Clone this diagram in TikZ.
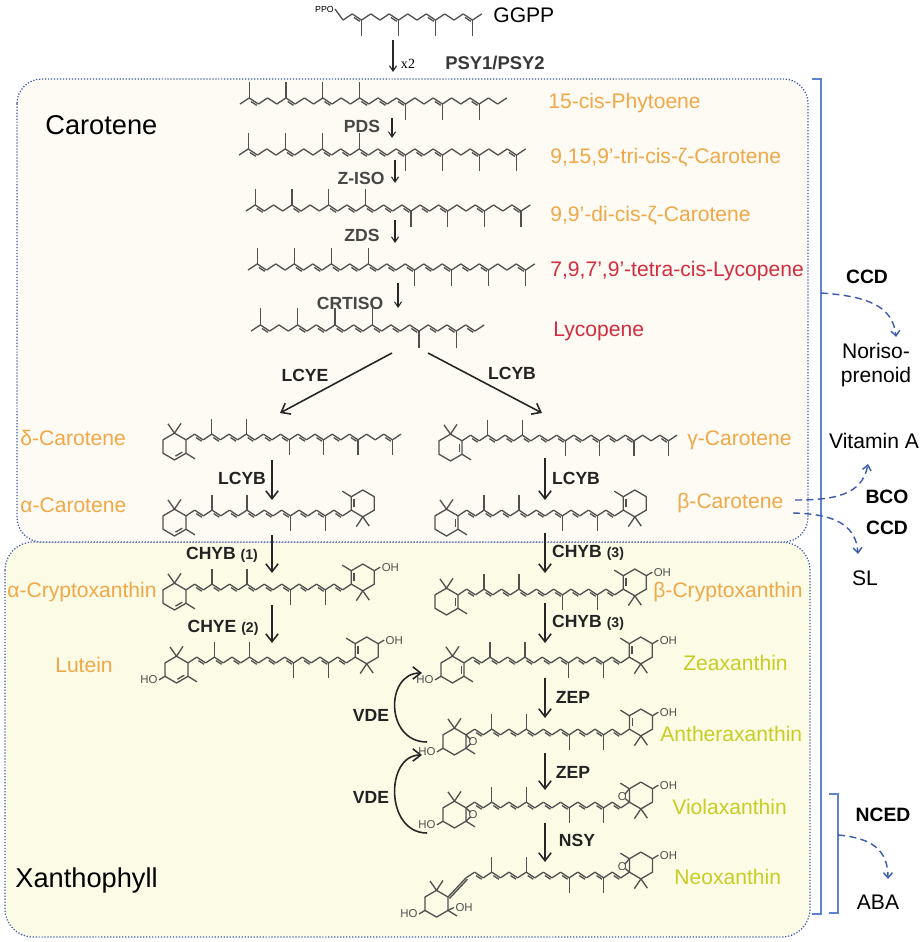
\documentclass[tikz,border=0pt]{standalone}
\usepackage{fontspec}
\setmainfont{Liberation Sans}
\newfontfamily\serifx{Liberation Serif}
\usetikzlibrary{arrows.meta}

\definecolor{orlab}{RGB}{240,168,72}
\definecolor{redlab}{RGB}{212,44,64}
\definecolor{yellab}{RGB}{200,205,35}
\definecolor{topfill}{RGB}{253,251,243}
\definecolor{botfill}{RGB}{252,251,230}
\definecolor{boxblue}{RGB}{60,90,175}
\definecolor{brblue}{RGB}{95,130,210}
\definecolor{bondgray}{RGB}{80,80,80}
\definecolor{enzgray}{RGB}{35,35,35}

\tikzset{
  bond/.style={draw=bondgray, line width=0.75pt, line join=round},
  oh/.style={font=\fontsize{6.5}{7}\selectfont, text=bondgray, inner sep=0.5pt},
  lab/.style={font=\fontsize{12}{14}\selectfont, anchor=west, inner sep=0pt},
  side/.style={font=\fontsize{12}{13.6}\selectfont, align=center, inner sep=0pt},
  enz/.style={font=\fontsize{10}{12}\selectfont\bfseries, text=enzgray, inner sep=0pt},
  topenz/.style={font=\fontsize{10.5}{12}\selectfont\bfseries, text=black!78, inner sep=0pt},
  sideenz/.style={font=\fontsize{11}{12}\selectfont\bfseries, inner sep=0pt},
  rxn/.style={draw=black!85, line width=0.9pt, -{Straight Barb[length=4.5pt,width=7pt]}},
  smallrxn/.style={draw=black!85, line width=0.6pt, -{Straight Barb[length=3pt,width=4pt]}},
  cleave/.style={draw=boxblue, line width=0.8pt, dash pattern=on 4pt off 2.5pt, -{Straight Barb[length=3pt,width=5pt]}},
  bracket/.style={draw=brblue, line width=0.9pt},
  panel/.style={draw=boxblue, densely dotted, line width=0.7pt},
}

% zigzag chain: x0, y0, dx, bonds, methyl vertices, double bonds (vertex k to k+1)
\newcommand{\chain}[6]{%
  \foreach \k in {1,...,#4}{%
    \pgfmathsetmacro{\xa}{#1+#3*(\k-1)}%
    \pgfmathsetmacro{\ya}{#2+0.33*#3*(1-2*mod(\k-1,2))}%
    \pgfmathsetmacro{\xb}{#1+#3*\k}%
    \pgfmathsetmacro{\yb}{#2+0.33*#3*(1-2*mod(\k,2))}%
    \draw[bond] (\xa,\ya) -- (\xb,\yb);
  }%
  \foreach \m in {#5}{%
    \pgfmathsetmacro{\xa}{#1+#3*\m}%
    \pgfmathsetmacro{\sg}{1-2*mod(\m,2)}%
    \draw[bond] (\xa,{#2+0.33*#3*\sg}) -- (\xa,{#2+2.1*#3*\sg});
  }%
  \foreach \d in {#6}{%
    \pgfmathsetmacro{\xa}{#1+#3*(\d+0.18)}%
    \pgfmathsetmacro{\xb}{#1+#3*(\d+0.82)}%
    \pgfmathsetmacro{\sg}{1-2*mod(\d,2)}%
    \draw[bond] (\xa,{#2+0.21*#3*\sg+2.4}) -- (\xb,{#2-0.21*#3*\sg+2.4});
  }%
}

% left end ring at C6: 0 epsilon, 1 beta, 2 epoxide, 3 allenic; #3 = 1 for HO
\newcommand{\ringL}[3]{%
  \begin{scope}[shift={(#1)}]
    \draw[bond] (0,0) -- (-11.5,-6.7) -- (-23,0) -- (-23,13.4) -- (-11.5,20.1) -- (0,13.4) -- cycle;
    \draw[bond] (-11.5,-6.7) -- (-18,-16) (-11.5,-6.7) -- (-5,-16.5) (0,13.4) -- (9,19);
    \ifcase#2\relax
      \draw[bond] (-10.6,16.3) -- (-3.7,12.3);
    \or
      \draw[bond] (-2.8,2.7) -- (-2.8,10.7);
    \or
      \draw[bond] (0,0) -- (4.5,4.5) (0,13.4) -- (4.5,9);
      \node[oh] at (7,6.7) {O};
    \or
      \draw[bond] (0,13.4) -- (6,10.5) node[oh,anchor=west] {OH};
    \fi
    \ifnum#3=1
      \draw[bond] (-23,13.4) -- (-29,17) node[oh,anchor=east] {HO};
    \fi
  \end{scope}}

% right end ring at C6': 1 beta, 2 epoxide; #3 = 1 for OH
\newcommand{\ringR}[3]{%
  \begin{scope}[shift={(#1)}]
    \draw[bond] (0,0) -- (11.5,6.7) -- (23,0) -- (23,-13.4) -- (11.5,-20.1) -- (0,-13.4) -- cycle;
    \draw[bond] (11.5,6.7) -- (18,16) (11.5,6.7) -- (5,16.5) (0,-13.4) -- (-9,-19);
    \ifcase#2\relax
    \or
      \draw[bond] (2.8,-2.7) -- (2.8,-10.7);
    \or
      \draw[bond] (0,0) -- (-4,-3.5) (0,-13.4) -- (-4.5,-8);
      \node[oh] at (-7,-5.5) {O};
    \fi
    \ifnum#3=1
      \draw[bond] (23,-13.4) -- (29,-17) node[oh,anchor=west] {OH};
    \fi
  \end{scope}}

\begin{document}
\begin{tikzpicture}[x=0.02cm,y=-0.02cm]
\path[fill=white] (0,0) rectangle (920,942);
\useasboundingbox (0,0) rectangle (920,942);

% panels
\draw[panel,fill=botfill,rounded corners=16pt] (5,542) rectangle (810,937);
\draw[panel,fill=topfill,rounded corners=14pt] (17,79) rectangle (808,542);
\node[font=\fontsize{15.5}{18}\selectfont,anchor=west,inner sep=0pt] (carot) at (45,125) {Carotene};
\node[font=\fontsize{15.5}{18}\selectfont,anchor=west,inner sep=0pt] (xanth) at (15,880) {Xanthophyll};

% brackets
\draw[bracket] (812,79) -- (821,79) -- (821,914) -- (812,914);
\draw[bracket] (829,794) -- (838,794) -- (838,913) -- (829,913);

% GGPP
\node[font=\fontsize{5}{6}\selectfont,inner sep=0.5pt,anchor=east] (ppo) at (335,9) {PPO};
\chain{343}{17}{9.25}{15}{2,6,10,14}{1,5,9,13}
\draw[bond] (ppo.east) -- (343,20.05);
\node[lab] (ggpp) at (493,15) {GGPP};

% linear carotenes
\chain{240}{101}{9.2}{29}{1,5,9,13,18,22,26}{1,5,9,13,15,17,21,25}
\chain{239}{152}{9.25}{31}{1,5,9,13,18,22,26,30}{1,5,9,11,13,15,17,19,21,25,29}
\chain{246}{208}{9.17}{31}{1,5,9,13,18,22,26,30}{1,5,9,11,13,15,17,19,21,25,29}
\chain{248}{267}{9.25}{31}{1,5,9,13,18,22,26,30}{1,5,7,9,11,13,15,17,19,21,23,25,29}
\chain{251}{328}{9.33}{25}{1,5,9,13,18,22}{1,5,7,9,11,13,15,17,19,21,23}

% delta / gamma
\chain{186}{437}{8.6}{25}{3,7,12,16,20,24}{1,3,5,7,9,11,13,15,17,19,23}
\ringL{186,439.84}{0}{0}
\chain{462}{438}{8.6}{25}{3,7,12,16,20,24}{1,3,5,7,9,11,13,15,17,19,23}
\ringL{462,440.84}{1}{0}
% alpha / beta
\chain{186}{513}{8.7}{19}{3,7,12,16}{1,3,5,7,9,11,13,15,17}
\ringL{186,515.87}{0}{0} \ringR{351.3,510.13}{1}{0}
\chain{458}{513}{8.7}{19}{3,7,12,16}{1,3,5,7,9,11,13,15,17}
\ringL{458,515.87}{1}{0} \ringR{623.3,510.13}{1}{0}
% cryptoxanthins
\chain{186}{587}{8.7}{19}{3,7,12,16}{1,3,5,7,9,11,13,15,17}
\ringL{186,589.87}{0}{0} \ringR{351.3,584.13}{1}{1}
\chain{458}{592}{8.7}{19}{3,7,12,16}{1,3,5,7,9,11,13,15,17}
\ringL{458,594.87}{1}{0} \ringR{623.3,589.13}{1}{1}
% lutein / zeaxanthin
\chain{188}{660}{8.8}{19}{3,7,12,16}{1,3,5,7,9,11,13,15,17}
\ringL{188,662.9}{0}{1} \ringR{355.2,657.1}{1}{1}
\chain{464}{660}{8.7}{19}{3,7,12,16}{1,3,5,7,9,11,13,15,17}
\ringL{464,662.87}{1}{1} \ringR{629.3,657.13}{1}{1}
% antheraxanthin / violaxanthin / neoxanthin
\chain{466}{732}{8.6}{19}{3,7,12,16}{1,3,5,7,9,11,13,15,17}
\ringL{466,734.84}{2}{1} \ringR{629.4,729.16}{1}{1}
\chain{466}{805}{8.6}{19}{3,7,12,16}{1,3,5,7,9,11,13,15,17}
\ringL{466,807.84}{2}{1} \ringR{629.4,802.16}{2}{1}
\chain{466}{875}{8.6}{19}{3,7,12,16}{1,3,5,7,9,11,13,15,17}
\ringL{448,897}{3}{1} \ringR{629.4,872.16}{2}{1}
\draw[bond] (448,897) -- (466,877.84) (449.5,898.4) -- (467.5,879.2);

% compound labels
\node[lab,text=orlab] (phyt) at (548,103) {15-cis-Phytoene};
\node[lab,text=orlab] (zc3) at (550,158) {9,15,9’-tri-cis-ζ-Carotene};
\node[lab,text=orlab] (zc2) at (550,216) {9,9’-di-cis-ζ-Carotene};
\node[lab,text=redlab] (prolyc) at (550,271) {7,9,7’,9’-tetra-cis-Lycopene};
\node[lab,text=redlab] (lyc) at (553,331) {Lycopene};
\node[lab,text=orlab] (dcar) at (20,438) {δ-Carotene};
\node[lab,text=orlab] (gcar) at (687,440) {γ-Carotene};
\node[lab,text=orlab] (acar) at (20,505) {α-Carotene};
\node[lab,text=orlab] (bcar) at (677,503) {β-Carotene};
\node[lab,text=orlab] (acry) at (7,592) {α-Cryptoxanthin};
\node[lab,text=orlab] (bcry) at (653,592) {β-Cryptoxanthin};
\node[lab,text=orlab,anchor=center] (lut) at (84,665) {Lutein};
\node[lab,text=yellab] (zea) at (683,663) {Zeaxanthin};
\node[lab,text=yellab] (anth) at (660,734) {Antheraxanthin};
\node[lab,text=yellab] (viola) at (672,807) {Violaxanthin};
\node[lab,text=yellab] (neo) at (674,877) {Neoxanthin};

% enzymes
\node[topenz] (psy) at (495,63) {PSY1/PSY2};
\node[font=\serifx\fontsize{8}{9}\selectfont,inner sep=0pt] (x2) at (408,64) {x2};
\node[topenz,font=\fontsize{10}{12}\selectfont\bfseries,text=black!72] (pds) at (362,126) {PDS};
\node[topenz,font=\fontsize{10}{12}\selectfont\bfseries,text=black!72] (ziso) at (361,178) {Z-ISO};
\node[topenz,font=\fontsize{10}{12}\selectfont\bfseries,text=black!72] (zds) at (362,235) {ZDS};
\node[topenz,font=\fontsize{10}{12}\selectfont\bfseries,text=black!72] (crtiso) at (350,303) {CRTISO};
\node[enz] (lcye) at (305,375) {LCYE};
\node[enz] (lcyb) at (512,373) {LCYB};
\node[enz] (lcybl) at (242,478) {LCYB};
\node[enz] (chyba) at (222,555) {CHYB {\fontsize{8}{9}\selectfont(1)}};
\node[enz] (chye) at (223,628) {CHYE {\fontsize{8}{9}\selectfont(2)}};
\node[enz] (lcybr) at (576,478) {LCYB};
\node[enz] (chybb) at (588,553) {CHYB {\fontsize{8}{9}\selectfont(3)}};
\node[enz] (chybc) at (588,623) {CHYB {\fontsize{8}{9}\selectfont(3)}};
\node[enz] (zepa) at (573,697) {ZEP};
\node[enz] (zepb) at (573,772) {ZEP};
\node[enz] (nsy) at (577,840) {NSY};
\node[enz] (vdea) at (371,715) {VDE};
\node[enz] (vdeb) at (371,797) {VDE};

% reaction arrows
\foreach \n/\x/\ya/\yb in {psy/393/40/72, pds/392/118/138, ziso/395/160/183, zds/395/220/243, crtiso/398/283/308}{
  \coordinate (\n-a) at (\x,\ya);
  \coordinate (\n-b) at (\x,\yb);
  \draw[smallrxn] (\n-a) -- (\n-b);
}
\foreach \n/\x/\ya/\yb in {lcybl/272/460/500, chyba/272/535/573, chye/272/605/643,
  lcybr/545/458/500, chybb/545/533/573, chybc/545/603/643, zepa/545/678/718, zepb/545/753/790, nsy/545/823/862}{
  \coordinate (\n-a) at (\x,\ya);
  \coordinate (\n-b) at (\x,\yb);
  \draw[rxn] (\n-a) -- (\n-b);
}
\coordinate (lcye-a) at (392,353); \coordinate (lcye-b) at (280,413);
\coordinate (lcyb-a) at (428,353); \coordinate (lcyb-b) at (542,413);
\draw[rxn] (lcye-a) -- (lcye-b);
\draw[rxn] (lcyb-a) -- (lcyb-b);
\coordinate (vdea-a) at (427,742); \coordinate (vdea-b) at (422,673);
\coordinate (vdeb-a) at (427,833); \coordinate (vdeb-b) at (422,755);
\draw[rxn] (vdea-a) .. controls (385,742) and (385,673) .. (vdea-b);
\draw[rxn] (vdeb-a) .. controls (385,833) and (385,755) .. (vdeb-b);

% cleavage products
\node[sideenz] (ccda) at (867,277) {CCD};
\node[side] (noriso) at (876,365) {Noriso-\\prenoid};
\node[side] (vita) at (874,441) {Vitamin A};
\node[sideenz] (bco) at (887,497) {BCO};
\node[sideenz] (ccdb) at (887,528) {CCD};
\node[side] (sl) at (865,578) {SL};
\node[sideenz] (nced) at (883,815) {NCED};
\node[side] (aba) at (878,902) {ABA};

\coordinate (ccda-a) at (821,293); \coordinate (ccda-b) at (896,337);
\coordinate (bco-a) at (795,500); \coordinate (bco-b) at (868,464);
\coordinate (ccdb-a) at (793,513); \coordinate (ccdb-b) at (858,554);
\coordinate (nced-a) at (838,835); \coordinate (nced-b) at (888,879);
\draw[cleave] (ccda-a) .. controls (865,296) and (893,305) .. (ccda-b);
\draw[cleave] (bco-a) .. controls (835,500) and (862,495) .. (bco-b);
\draw[cleave] (ccdb-a) .. controls (835,514) and (856,525) .. (ccdb-b);
\draw[cleave] (nced-a) .. controls (872,838) and (888,850) .. (nced-b);
\end{tikzpicture}
\end{document}
